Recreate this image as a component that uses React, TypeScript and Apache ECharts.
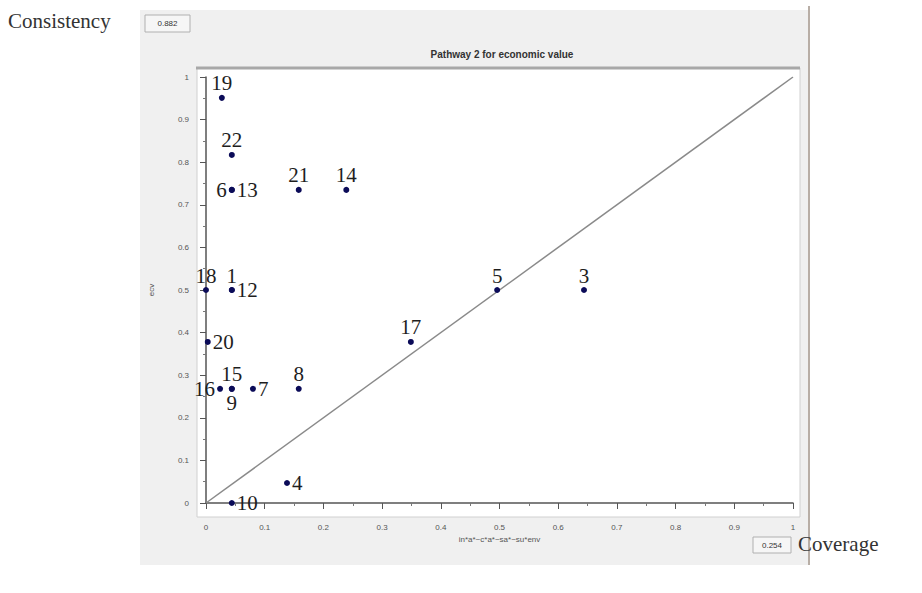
import React, { useEffect, useRef } from "react";
import * as echarts from "echarts";

// ---- data ----
const caseIds = ["19", "22", "6", "13", "21", "14", "18", "1", "12", "5", "3", "20", "17", "16", "15", "9", "7", "8", "4", "10"];
const coverageX = [0.027, 0.044, 0.044, 0.044, 0.158, 0.239, 0.0, 0.044, 0.044, 0.496, 0.644, 0.003, 0.349, 0.024, 0.044, 0.044, 0.08, 0.158, 0.138, 0.044];
const consistencyY = [0.951, 0.817, 0.735, 0.735, 0.735, 0.735, 0.5, 0.5, 0.5, 0.5, 0.5, 0.378, 0.378, 0.268, 0.268, 0.268, 0.268, 0.268, 0.047, 0.0];
const diagonal = [[0, 0], [1, 1]];

const titleText = "Pathway 2 for economic value";
const xAxisName = "in*a*~c*a*~sa*~su*env";
const yAxisName = "ecv";
const consistencyLabel = "Consistency";
const consistencyValue = "0.882";
const coverageLabel = "Coverage";
const coverageValue = "0.254";

// label placement per case (style, not data)
const labelSide: Record<string, string> = {
  "19": "top", "22": "top", "6": "left", "13": "right", "21": "top", "14": "top",
  "18": "top", "1": "top", "12": "right", "5": "top", "3": "top", "20": "right",
  "17": "top", "16": "left", "15": "top", "9": "bottom", "7": "right", "8": "top",
  "4": "right", "10": "right",
};

export default function App() {
  const ref = useRef<HTMLDivElement>(null);
  useEffect(() => {
    if (!ref.current) return;
    const chart = echarts.init(ref.current, null, { renderer: "svg" });
    const serif = "'Liberation Serif', 'DejaVu Serif', serif";
    const sans = "'Liberation Sans', Arial, sans-serif";
    const points = caseIds.map((id, i) => ({
      name: id,
      value: [coverageX[i], consistencyY[i]],
      label: {
        show: true,
        position: labelSide[id] || "top",
        distance: labelSide[id] === "right" || labelSide[id] === "left" ? 2 : 1,
      },
    }));
    chart.setOption({
      animation: false,
      backgroundColor: "#ffffff",
      title: {
        text: titleText,
        left: 497,
        top: 44,
        textAlign: "center",
        textStyle: { fontFamily: sans, fontSize: 10, fontWeight: "bold", color: "#333" },
      },
      graphic: [
        { type: "rect", z: -10, shape: { x: 140, y: 10, width: 668, height: 555 }, style: { fill: "#f0f0f0" } },
        { type: "line", z: -9, shape: { x1: 809, y1: 6, x2: 809, y2: 565 }, style: { stroke: "#b8aea6", lineWidth: 2 } },
        { type: "rect", z: -8, shape: { x: 197, y: 68, width: 603, height: 449 }, style: { fill: "#ffffff", stroke: "#d0d0d0", lineWidth: 1 } },
        { type: "line", z: -7, shape: { x1: 196, y1: 68, x2: 800, y2: 68 }, style: { stroke: "#a8a8a8", lineWidth: 3 } },
        { type: "text", left: 8, top: 10, style: { text: consistencyLabel, font: `21px ${serif}`, fill: "#333" } },
        { type: "rect", shape: { x: 145, y: 15, width: 45, height: 17 }, style: { fill: "#f6f6f6", stroke: "#b0b0b0", lineWidth: 1 } },
        { type: "text", x: 167.5, y: 23.5, style: { text: consistencyValue, font: `8px ${sans}`, fill: "#333", align: "center", verticalAlign: "middle" } },
        { type: "rect", shape: { x: 753, y: 537, width: 38, height: 16 }, style: { fill: "#f6f6f6", stroke: "#b0b0b0", lineWidth: 1 } },
        { type: "text", x: 772, y: 545, style: { text: coverageValue, font: `8px ${sans}`, fill: "#333", align: "center", verticalAlign: "middle" } },
        { type: "text", left: 798, top: 533, style: { text: coverageLabel, font: `21px ${serif}`, fill: "#333" } },
      ],
      grid: { left: 206, right: 129, top: 77, bottom: 90 },
      xAxis: {
        type: "value",
        min: 0,
        max: 1,
        interval: 0.1,
        offset: 14,
        name: xAxisName,
        nameLocation: "middle",
        nameGap: 17,
        nameTextStyle: { fontFamily: sans, fontSize: 8, color: "#555" },
        axisLine: { show: true, lineStyle: { color: "#555", width: 1.5 } },
        axisTick: { show: true, length: 6, lineStyle: { color: "#555" } },
        minorTick: { show: true, splitNumber: 2, length: 3, lineStyle: { color: "#777" } },
        axisLabel: { fontFamily: sans, fontSize: 8, color: "#555", margin: 6 },
        splitLine: { show: false },
      },
      yAxis: {
        type: "value",
        min: 0,
        max: 1,
        interval: 0.1,
        offset: 9,
        name: yAxisName,
        nameLocation: "middle",
        nameGap: 42,
        nameRotate: 90,
        nameTextStyle: { fontFamily: sans, fontSize: 8, color: "#555" },
        axisLine: { show: true, lineStyle: { color: "#555", width: 1.5 } },
        axisTick: { show: true, length: 6, lineStyle: { color: "#555" } },
        minorTick: { show: true, splitNumber: 2, length: 3, lineStyle: { color: "#777" } },
        axisLabel: { fontFamily: sans, fontSize: 8, color: "#555", margin: 8 },
        splitLine: { show: false },
      },
      series: [
        {
          type: "line",
          data: diagonal,
          showSymbol: false,
          symbol: "none",
          lineStyle: { color: "#8a8a8a", width: 1.5 },
          z: 1,
          silent: true,
        },
        {
          type: "scatter",
          data: points,
          symbol: "circle",
          symbolSize: 6,
          itemStyle: { color: "#0b0b58", opacity: 1 },
          label: {
            show: true,
            formatter: "{b}",
            fontFamily: serif,
            fontSize: 21,
            color: "#1e1e1e",
          },
          labelLayout: { hideOverlap: false },
          z: 3,
        },
      ],
    });
    return () => chart.dispose();
  }, []);
  return (
    <div
      ref={ref}
      style={{ position: "fixed", left: 0, top: 0, width: 922, height: 593, background: "#fff" }}
    />
  );
}
